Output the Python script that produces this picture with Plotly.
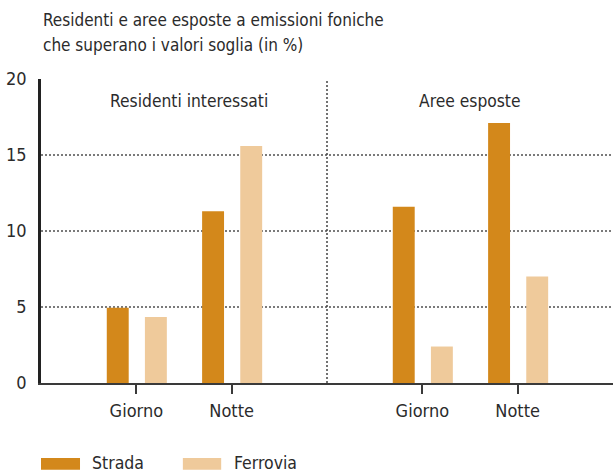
import plotly.graph_objects as go

# Data (percentages)
positions = [1, 2, 4, 5]
tick_labels = ["Giorno", "Notte", "Giorno", "Notte"]
strada = [4.95, 11.3, 11.6, 17.1]
ferrovia = [4.35, 15.6, 2.4, 7.0]
group_labels = ["Residenti interessati", "Aree esposte"]
y_ticks = [0, 5, 10, 15, 20]

STRADA_COLOR = "#D3881B"
FERROVIA_COLOR = "#EFCA9B"
TEXT = "#2b2b2b"
FONT = "DejaVu Sans Condensed, Liberation Sans, sans-serif"

fig = go.Figure()
fig.add_trace(go.Bar(x=positions, y=strada, name="Strada", marker_color=STRADA_COLOR,
                     width=0.23, offset=-0.31, marker_line_width=0))
fig.add_trace(go.Bar(x=positions, y=ferrovia, name="Ferrovia", marker_color=FERROVIA_COLOR,
                     width=0.23, offset=0.09, marker_line_width=0))

# dotted separator between the two panels
fig.add_shape(type="line", xref="x", yref="y", x0=3, x1=3, y0=0, y1=20,
              line=dict(color="#444", width=1.5, dash="2px,2px"))

# panel headings
fig.add_annotation(x=1.55, y=18.55, xref="x", yref="y", text=group_labels[0], showarrow=False,
                   font=dict(size=17.3, color=TEXT, family=FONT))
fig.add_annotation(x=4.5, y=18.55, xref="x", yref="y", text=group_labels[1], showarrow=False,
                   font=dict(size=17.3, color=TEXT, family=FONT))

# title
fig.add_annotation(x=0.0, y=1.194, xref="paper", yref="paper", xanchor="left", yanchor="middle",
                   text="Residenti e aree esposte a emissioni foniche", showarrow=False,
                   font=dict(size=17, color=TEXT, family=FONT))
fig.add_annotation(x=0.0, y=1.112, xref="paper", yref="paper", xanchor="left", yanchor="middle",
                   text="che superano i valori soglia (in %)", showarrow=False,
                   font=dict(size=17, color=TEXT, family=FONT))

# legend
legend_items = [("Strada", STRADA_COLOR, 0.0, 0.0682, 0.0857),
                ("Ferrovia", FERROVIA_COLOR, 0.248, 0.315, 0.334)]
for label, color, sx0, sx1, tx in legend_items:
    fig.add_shape(type="rect", xref="paper", yref="paper", x0=sx0, x1=sx1, y0=-0.247, y1=-0.285,
                  fillcolor=color, line_width=0)
    fig.add_annotation(x=tx, y=-0.262, xref="paper", yref="paper", xanchor="left", yanchor="middle",
                       text=label, showarrow=False, font=dict(size=17.5, color=TEXT, family=FONT))

fig.update_layout(
    width=613, height=472,
    margin=dict(l=41, r=0, t=79, b=89),
    paper_bgcolor="white", plot_bgcolor="white",
    barmode="overlay", showlegend=False,
    font=dict(family=FONT, color=TEXT, size=17),
    xaxis=dict(range=[0, 6], tickvals=positions, ticktext=tick_labels,
               showgrid=False, zeroline=False, showline=True, linecolor="#3a3a3a", linewidth=2,
               ticks="outside", ticklen=9, tickwidth=1.5, tickcolor="#3a3a3a",
               ticklabelstandoff=1, tickfont=dict(size=18, color=TEXT)),
    yaxis=dict(range=[0, 20], tickvals=y_ticks, showgrid=True, gridcolor="#7a7a7a", gridwidth=1.5,
               griddash="2px,2px", zeroline=False, showline=True, linecolor="#222", linewidth=2.5,
               ticks="", ticklabelstandoff=8, tickfont=dict(size=18, color=TEXT)),
)

fig.write_html("out.html")
